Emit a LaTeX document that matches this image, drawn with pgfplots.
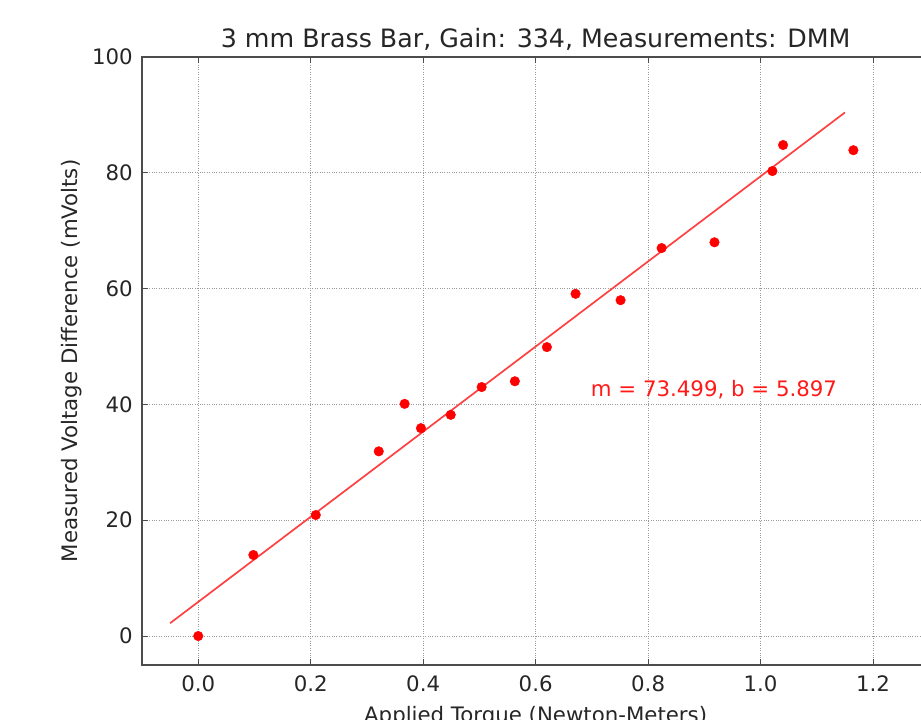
\documentclass[border=0pt]{standalone}
\usepackage{pgfplots}
\pgfplotsset{compat=1.18}
\usepackage{fontspec}
\setmainfont{DejaVu Sans}
\begin{document}
\begin{tikzpicture}
\begin{axis}[
  name=ax,
  width=787.3pt, height=608pt, scale only axis,
  xmin=-0.1, xmax=1.3, ymin=-5, ymax=100,
  xtick={0,0.2,0.4,0.6,0.8,1.0,1.2},
  ytick={0,20,40,60,80,100},
  xticklabel style={/pgf/number format/fixed, /pgf/number format/fixed zerofill, /pgf/number format/precision=1},
  /pgf/number format/assume math mode=true,
  tick align=inside,
  major tick length=6pt,
  grid=major,
  major grid style={dotted, black!40, line width=0.9pt},
  axis line style={black!70, line width=1.8pt},
  tick style={black!70, line width=1pt},
  tick label style={font=\fontsize{21.3}{21.3}\selectfont, text=black!85},
  xticklabel style={anchor=north, inner sep=0pt, yshift=-10pt},
  yticklabel style={anchor=east, inner sep=0pt, xshift=-9pt},
  label style={font=\fontsize{21.3}{21.3}\selectfont, text=black!85},
  xlabel style={at={(axis description cs:0.5,-0.0674)}, anchor=north, inner sep=0pt},
  ylabel style={at={(axis description cs:-0.0889,0.5)}, anchor=center, inner sep=0pt},
  title style={font=\fontsize{25.3}{25.3}\selectfont, text=black!85, at={(axis description cs:0.5,1)}, anchor=base, yshift=3pt},
  title={3 mm Brass Bar, Gain: 334, Measurements: DMM},
  xlabel={Applied Torque (Newton-Meters)},
  ylabel={Measured Voltage Difference (mVolts)},
]
\addplot[only marks, mark=*, mark size=4.8pt, color=red] coordinates {
(0.000,0.0) (0.098,14.0) (0.209,20.9) (0.321,31.9) (0.367,40.1) (0.396,35.9)
(0.449,38.2) (0.504,43.0) (0.563,44.0) (0.620,49.9) (0.671,59.1) (0.751,58.0)
(0.824,67.0) (0.918,68.0) (1.021,80.3) (1.040,84.8) (1.165,83.9)
};
\addplot[color=red!75, line width=1.7pt] coordinates {(-0.05,2.222) (1.15,90.421)};
\node[anchor=base west, text=red!90, font=\fontsize{21.3}{21.3}\selectfont, inner sep=0pt] at (axis cs:0.698,41.3) {m = 73.499, b = 5.897};
\end{axis}
\pgfresetboundingbox
\path[use as bounding box] ([xshift=-142pt,yshift=-55pt]ax.south west) rectangle ([xshift=-8.3pt,yshift=57pt]ax.north east);
\end{tikzpicture}
\end{document}
